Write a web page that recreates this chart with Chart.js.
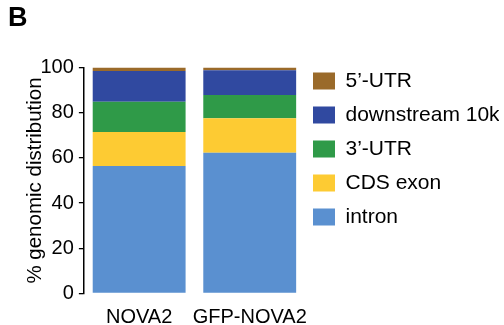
<!DOCTYPE html>
<html>
<head>
<meta charset="utf-8">
<script src="https://cdn.jsdelivr.net/npm/chart.js@4.4.1/dist/chart.umd.min.js"></script>
<style>
  html, body { margin: 0; padding: 0; background: #fff; }
  #contenedor { width: 504px; height: 325px; }
</style>
</head>
<body>
<div id="contenedor"><canvas id="graficoDistribucion"></canvas></div>
<script>
// Datos (% de distribución genómica)
const muestras = ['NOVA2', 'GFP-NOVA2'];
const intron = [56.4, 62.3];
const cdsExon = [15.1, 15.2];
const utr3 = [13.4, 10.3];
const downstream10k = [13.6, 11.0];
const utr5 = [1.5, 1.2];
const ticksY = [0, 20, 40, 60, 80, 100];

Chart.defaults.font.family = '"Liberation Sans", Arial, Helvetica, sans-serif';
Chart.defaults.color = '#000';

// Letra del panel y pequeño ajuste de la leyenda
const panelB = {
    id: 'panelB',
    afterLayout(chart) {
        chart.legend.left -= 5;
        chart.legend.right -= 5;
        chart.legend.top -= 10;
        chart.legend.bottom -= 10;
    },
    afterDraw(chart) {
        const ctx = chart.ctx;
        ctx.save();
        ctx.font = 'bold 27px "Liberation Sans", Arial, sans-serif';
        ctx.fillStyle = '#000';
        ctx.textBaseline = 'alphabetic';
        ctx.fillText('B', 8, 26);
        ctx.restore();
    }
};

new Chart(document.getElementById('graficoDistribucion'), {
    type: 'bar',
    data: {
        labels: muestras,
        datasets: [
            { label: 'intron', data: intron, backgroundColor: '#5a90d0' },
            { label: 'CDS exon', data: cdsExon, backgroundColor: '#fdcb33' },
            { label: '3\u2019-UTR', data: utr3, backgroundColor: '#2f9a48' },
            { label: 'downstream 10k', data: downstream10k, backgroundColor: '#3049a0' },
            { label: '5\u2019-UTR', data: utr5, backgroundColor: '#9a6a2a' }
        ].map(d => Object.assign(d, { borderWidth: 0, barPercentage: 0.84, categoryPercentage: 1 }))
    },
    options: {
        responsive: true,
        maintainAspectRatio: false,
        animation: false,
        layout: { padding: { top: 67.5, left: 25, right: 0, bottom: -7.5 } },
        plugins: {
            legend: {
                position: 'right',
                align: 'start',
                reverse: true,
                maxWidth: 199,
                labels: {
                    boxWidth: 22,
                    boxHeight: 17,
                    padding: 13,
                    font: { size: 21 },
                    color: '#000'
                }
            },
            tooltip: { enabled: false }
        },
        scales: {
            x: {
                stacked: true,
                grid: { display: false },
                border: { display: false },
                ticks: { font: { size: 20, lineHeight: 1 }, padding: 5.5, maxRotation: 0, minRotation: 0, autoSkip: false }
            },
            y: {
                stacked: true,
                min: 0,
                max: 100,
                afterBuildTicks: scale => { scale.ticks = ticksY.map(v => ({ value: v })); },
                grid: { drawOnChartArea: false, drawTicks: true, tickLength: 5, color: '#000', lineWidth: 1.3 },
                border: { display: true, color: '#000', width: 1.5 },
                ticks: { font: { size: 20 }, padding: 5 },
                title: {
                    display: true,
                    text: '% genomic distribution',
                    font: { size: 20.5, lineHeight: 1 },
                    padding: { top: 0, bottom: -10 }
                }
            }
        }
    },
    plugins: [panelB]
});
</script>
</body>
</html>
